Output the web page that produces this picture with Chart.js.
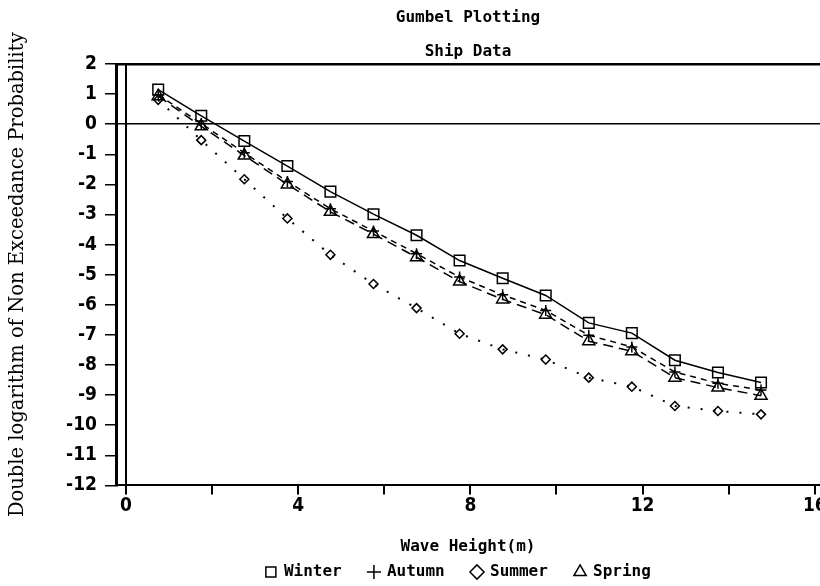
<!DOCTYPE html>
<html>
<head>
<meta charset="utf-8">
<script src="https://cdn.jsdelivr.net/npm/chart.js@4.4.1/dist/chart.umd.min.js"></script>
<style>
  html, body { margin: 0; padding: 0; background: #fff; }
  canvas { display: block; }
</style>
</head>
<body>
<canvas id="chart" width="820" height="586"></canvas>
<script>
// Wave height class centres (m)
const waveHeights = [0.75, 1.75, 2.75, 3.75, 4.75, 5.75, 6.75, 7.75, 8.75, 9.75, 10.75, 11.75, 12.75, 13.75, 14.75];

// Double logarithm of non-exceedance probability, by season
const winter = [1.15, 0.28, -0.56, -1.39, -2.24, -2.99, -3.69, -4.53, -5.12, -5.69, -6.60, -6.94, -7.84, -8.25, -8.58];
const autumn = [0.98, 0.02, -0.95, -1.90, -2.81, -3.55, -4.30, -5.08, -5.67, -6.19, -7.01, -7.40, -8.23, -8.61, -8.83];
const summer = [0.81, -0.53, -1.83, -3.13, -4.34, -5.31, -6.11, -6.96, -7.48, -7.82, -8.42, -8.72, -9.36, -9.53, -9.64];
const spring = [0.93, -0.07, -1.04, -2.00, -2.91, -3.65, -4.42, -5.23, -5.82, -6.33, -7.21, -7.54, -8.42, -8.75, -9.02];

const seriesNames = ['Winter', 'Autumn', 'Summer', 'Spring'];
const titleText = 'Gumbel Plotting';
const subtitleText = 'Ship Data';
const xAxisTitle = 'Wave Height(m)';
const yAxisTitle = 'Double logarithm of Non Exceedance Probability';

const monoFont = { family: '"DejaVu Sans Mono", "Liberation Mono", monospace', size: 16, weight: 'bold' };
const tickFont = { family: '"Liberation Sans Narrow", "DejaVu Sans Condensed", "Liberation Sans", sans-serif', size: 19, weight: 'bold' };
const serifFont = { family: '"DejaVu Serif", "Liberation Serif", serif', size: 19.5, weight: 'normal' };

const toPoints = ys => ys.map((y, i) => ({ x: waveHeights[i], y }));

const seriesStyle = [
  { data: winter, pointStyle: 'rect',     radius: 7.5, dash: [] },
  { data: autumn, pointStyle: 'cross',    radius: 5.5, dash: [6, 5] },
  { data: summer, pointStyle: 'rectRot',  radius: 4.5, dash: [2, 11] },
  { data: spring, pointStyle: 'triangle', radius: 7,   dash: [10, 6] }
];

const datasets = seriesStyle.map((s, i) => ({
  label: seriesNames[i],
  data: toPoints(s.data),
  borderColor: '#000',
  backgroundColor: 'rgba(0,0,0,0)',
  borderWidth: i === 2 ? 2 : 1.5,
  borderDash: s.dash,
  pointStyle: s.pointStyle,
  pointRadius: s.radius,
  pointHoverRadius: s.radius,
  pointBorderWidth: 1.5,
  pointBorderColor: '#000',
  pointBackgroundColor: 'rgba(0,0,0,0)',
  tension: 0,
  fill: false
}));

const zeroColor = c => (c.tick && c.tick.value === 0 ? '#000' : 'rgba(0,0,0,0)');

new Chart(document.getElementById('chart'), {
  type: 'line',
  data: { datasets },
  options: {
    responsive: false,
    animation: false,
    layout: { autoPadding: false, padding: { left: 0, right: 0, top: 0, bottom: -4 } },
    plugins: {
      tooltip: { enabled: false },
      title: {
        display: true, text: titleText, fullSize: false, color: '#000',
        font: monoFont, padding: { top: 8.4, bottom: 0 }
      },
      subtitle: {
        display: true, text: subtitleText, fullSize: false, color: '#000',
        font: monoFont, padding: { top: 14.8, bottom: 2.4 }
      },
      legend: {
        position: 'bottom',
        fullSize: false,
        labels: {
          usePointStyle: true,
          boxWidth: 10,
          boxHeight: 10,
          padding: 8,
          color: '#000',
          font: monoFont,
          generateLabels(chart) {
            return Chart.defaults.plugins.legend.labels.generateLabels(chart).map(item => {
              item.text = item.text + '  ';
              item.lineDash = [];
              item.lineWidth = 1.5;
              item.fillStyle = 'rgba(0,0,0,0)';
              return item;
            });
          }
        }
      }
    },
    scales: {
      x: {
        type: 'linear',
        position: 'bottom',
        min: -0.23,
        max: 16.12,
        ticks: {
          stepSize: 2,
          includeBounds: false,
          autoSkip: false,
          maxRotation: 0,
          padding: 0,
          color: '#000',
          font: tickFont,
          callback: v => (v % 4 === 0 ? String(v) : '')
        },
        grid: {
          color: zeroColor,
          tickColor: '#000',
          tickLength: 9,
          lineWidth: 2
        },
        border: { display: true, color: '#000', width: 2 },
        title: {
          display: true, text: xAxisTitle, color: '#000', font: monoFont,
          padding: { top: 0, bottom: 0 }
        },
        afterFit(scale) {
          scale.paddingLeft = 0;
          scale.paddingRight = 0;
          scale.height = 70.6;
        }
      },
      xTop: {
        type: 'linear',
        position: 'top',
        min: -0.23,
        max: 16.12,
        ticks: { display: false },
        grid: { display: false, drawTicks: false, drawOnChartArea: false },
        border: { display: true, color: '#000', width: 2.5 }
      },
      y: {
        min: -12,
        max: 2,
        ticks: { stepSize: 1, padding: 8, color: '#000', font: tickFont },
        grid: {
          color: zeroColor,
          tickColor: '#000',
          tickLength: 11,
          lineWidth: 1.5
        },
        border: { display: true, color: '#000', width: 3 },
        title: {
          display: true, text: yAxisTitle, color: '#000', font: serifFont,
          padding: { top: 6, bottom: 0 }
        },
        afterFit(scale) {
          scale.width = 116;
        }
      }
    }
  }
});
</script>
</body>
</html>
